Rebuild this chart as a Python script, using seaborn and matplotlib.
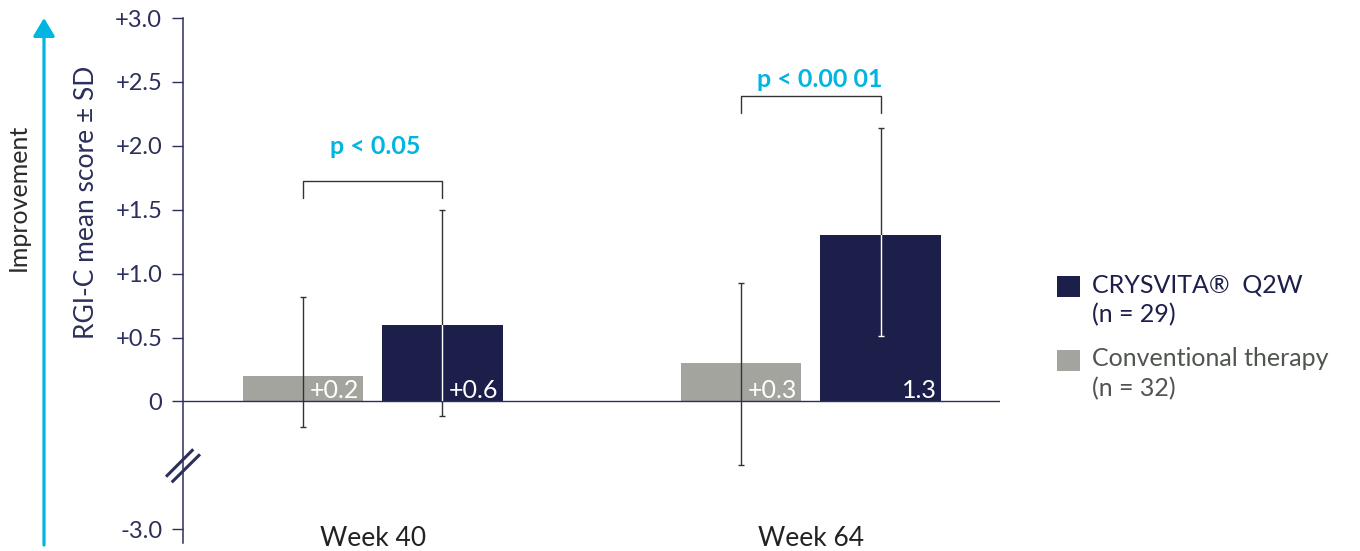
import numpy as np
import pandas as pd
import matplotlib
matplotlib.use("Agg")
import matplotlib.pyplot as plt
import seaborn as sns
from matplotlib.patches import Patch

# ---- data -------------------------------------------------------------
weeks = ["Week 40", "Week 64"]
arms = ["Conventional therapy", "CRYSVITA® Q2W"]
conventional_mean = [0.2, 0.3]
crysvita_mean = [0.6, 1.3]
# mean ± SD ends of the whiskers
conventional_sd_low = [-0.20, -0.50]
conventional_sd_high = [0.82, 0.93]
crysvita_sd_low = [-0.11, 0.51]
crysvita_sd_high = [1.50, 2.14]
conventional_labels = ["+0.2", "+0.3"]
crysvita_labels = ["+0.6", "1.3"]
p_values = ["p < 0.05", "p < 0.00 01"]
# broken axis: the lowest tick stands for -3.0
ytick_values = [-1.0, 0.0, 0.5, 1.0, 1.5, 2.0, 2.5, 3.0]
ytick_labels = ["-3.0", "0", "+0.5", "+1.0", "+1.5", "+2.0", "+2.5", "+3.0"]
legend_labels = ["CRYSVITA®  Q2W\n(n = 29)", "Conventional therapy\n(n = 32)"]

# ---- style ------------------------------------------------------------
NAVY = "#1d1f4b"
GREY = "#a4a49f"
CYAN = "#00b5e0"
AXIS = "#2c2f5b"
ERR = "#333333"

sns.set_style("white")
plt.rcParams["font.family"] = ["Lato", "DejaVu Sans"]

fig = plt.figure(figsize=(13.6, 5.51), dpi=100)
ax = fig.add_axes([0.13456, 0.01452, 0.60074, 0.95281])

df = pd.DataFrame({
    "week": weeks * 2,
    "arm": [arms[0]] * len(weeks) + [arms[1]] * len(weeks),
    "score": conventional_mean + crysvita_mean,
})

sns.barplot(data=df, x="week", y="score", hue="arm", order=weeks, hue_order=arms,
            palette=[GREY, NAVY], saturation=1, width=0.637, gap=0.139,
            errorbar=None, legend=False, linewidth=0, ax=ax, zorder=2)

ax.set_xlim(-0.433, 1.432)
ax.set_ylim(-1.107, 3.0)

conv_bars = list(ax.containers[0])
crys_bars = list(ax.containers[1])
conv_x = [p.get_x() + p.get_width() / 2 for p in conv_bars]
crys_x = [p.get_x() + p.get_width() / 2 for p in crys_bars]

eb_kw = dict(fmt="none", elinewidth=1.0, capsize=2.5, capthick=1.0)

# SD whiskers
ax.errorbar(conv_x, conventional_mean,
            yerr=[np.subtract(conventional_mean, conventional_sd_low),
                  np.subtract(conventional_sd_high, conventional_mean)],
            ecolor=ERR, zorder=3, **eb_kw)
ax.errorbar(crys_x, crysvita_mean,
            yerr=[np.subtract(crysvita_mean, crysvita_sd_low),
                  np.subtract(crysvita_sd_high, crysvita_mean)],
            ecolor=ERR, zorder=3, **eb_kw)
# inside the dark bars the whisker turns white
for patch, x, m, lo, hi in zip(crys_bars, crys_x, crysvita_mean,
                               crysvita_sd_low, crysvita_sd_high):
    eb = ax.errorbar([x], [m], yerr=[[m - lo], [hi - m]], ecolor="white",
                     zorder=4, **eb_kw)
    for art in eb.get_children():
        art.set_clip_path(patch)

# value labels inside the bars
for bars, labels in ((conv_bars, conventional_labels), (crys_bars, crysvita_labels)):
    for patch, lab in zip(bars, labels):
        ax.text(patch.get_x() + patch.get_width() - 0.009, 0.025, lab,
                ha="right", va="baseline", color="white", fontsize=18, zorder=5)

# significance brackets
bracket_y = [1.725, 2.39]
bracket_drop = 0.13
text_y = [1.94, 2.463]
text_dx = [0.005, 0.02]
for x0, x1, by, ty, dx, txt in zip(conv_x, crys_x, bracket_y, text_y, text_dx, p_values):
    ax.plot([x0, x0, x1, x1], [by - bracket_drop, by, by, by - bracket_drop],
            color=ERR, lw=1.0, zorder=3)
    ax.text((x0 + x1) / 2 + dx, ty, txt, ha="center", va="baseline",
            color=CYAN, fontsize=18, fontweight="bold")

# axes decoration
ax.axhline(0, color=AXIS, lw=1.0, zorder=2.5)
for side in ("top", "right", "bottom"):
    ax.spines[side].set_visible(False)
ax.spines["left"].set_color(AXIS)
ax.spines["left"].set_linewidth(1.1)

ax.set_yticks(ytick_values)
ax.set_yticklabels(ytick_labels)
ax.tick_params(axis="y", direction="out", length=8, width=1.0, color=AXIS,
               labelcolor=AXIS, labelsize=17, pad=7, left=True)
ax.tick_params(axis="x", length=0, labelsize=19, labelcolor="#222222", pad=-12)
ax.set_xlabel("")
ax.set_ylabel("RGI-C mean score ± SD", fontsize=19, color=AXIS)
ax.yaxis.set_label_coords(-0.103, 0.648)

# axis break marks
for (xa, ya), (xb, yb) in (((-0.0208, 0.1263), (0.0126, 0.1785)),
                           ((-0.0138, 0.1156), (0.0208, 0.1689))):
    ax.plot([xa, xb], [ya, yb], transform=ax.transAxes, color=AXIS, lw=2.2,
            clip_on=False, solid_capstyle="butt")

# direction arrow
ax.annotate("", xy=(44 / 1360, 1 - 18 / 551), xytext=(44 / 1360, 1 - 545 / 551),
            xycoords="figure fraction", textcoords="figure fraction",
            arrowprops=dict(arrowstyle="-|>,head_width=0.33,head_length=0.55",
                            mutation_scale=20, color=CYAN, lw=2.3,
                            shrinkA=0, shrinkB=0))
fig.text(18 / 1360, 1 - 197 / 551, "Improvement", rotation=90, ha="center",
         va="center", fontsize=18, color="#2a2a2a")

# legend
handles = [Patch(facecolor=NAVY, edgecolor="none"), Patch(facecolor=GREY, edgecolor="none")]
leg = fig.legend(handles, legend_labels, loc="upper left",
                 bbox_to_anchor=(1057 / 1360, 1 - 273 / 551), frameon=False,
                 fontsize=18, handlelength=0.9, handleheight=0.9,
                 handletextpad=0.5, labelspacing=0.85, borderpad=0,
                 borderaxespad=0)
for t in leg.get_texts():
    t.set_linespacing(1.35)
for h in leg.legend_handles:
    h.set_y(h.get_y() + 10)
leg.get_texts()[0].set_color(NAVY)
leg.get_texts()[1].set_color("#50554f")

fig.savefig("out.png", dpi=100)
